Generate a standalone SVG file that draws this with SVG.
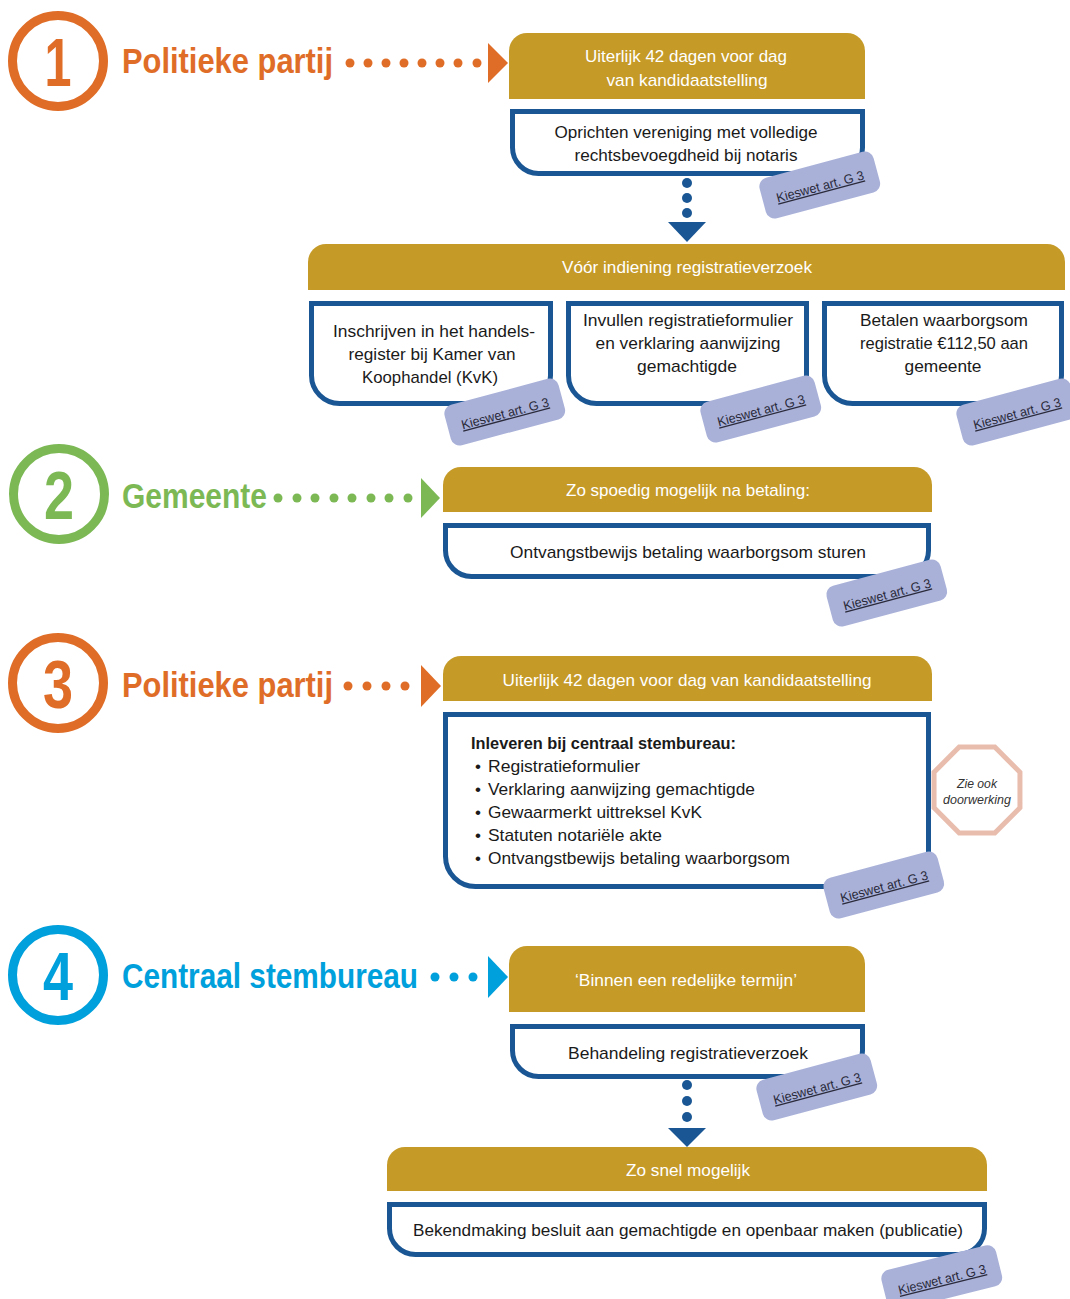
<svg xmlns="http://www.w3.org/2000/svg" width="1070" height="1299" viewBox="0 0 1070 1299">
<style>
.gold{fill:#C59A27}
.box{fill:#fff;stroke:#1A5694;stroke-width:5}
.hd{font-family:"Liberation Sans",Arial,sans-serif;font-size:17px;fill:#fff;text-anchor:middle}
.bt{font-family:"Liberation Sans",Arial,sans-serif;font-size:17px;fill:#1a1a1a;text-anchor:middle}
.bl{font-family:"Liberation Sans",Arial,sans-serif;font-size:17px;fill:#1a1a1a}
.tagr{fill:#A9B1D9}
.tagt{font-family:"Liberation Sans",Arial,sans-serif;font-size:13px;fill:#2a2a3a;text-anchor:middle;text-decoration:underline}
.ring{fill:none;stroke-width:9}
.num{font-family:"Liberation Sans",Arial,sans-serif;font-weight:bold;font-size:69px;text-anchor:middle}
.ttl{font-family:"Liberation Sans",Arial,sans-serif;font-weight:bold;font-size:35px}
.or{fill:#E06D27}.gr{fill:#7CB955}.cy{fill:#00A0DC}.db{fill:#1A5694}
</style>
<defs>
<g id="tag">
<rect class="tagr" x="-59" y="-22" width="118" height="42" rx="9"/>
<text class="tagt" x="0" y="5" textLength="90" lengthAdjust="spacingAndGlyphs">Kieswet art. G 3</text>
</g>
</defs>

<g id="connectors">
<g class="or">
<circle cx="350" cy="63" r="4.5"/><circle cx="368" cy="63" r="4.5"/><circle cx="386" cy="63" r="4.5"/><circle cx="404" cy="63" r="4.5"/><circle cx="422" cy="63" r="4.5"/><circle cx="440" cy="63" r="4.5"/><circle cx="458" cy="63" r="4.5"/><circle cx="477" cy="63" r="4.5"/>
<polygon points="488,43 508,63 488,83"/>
</g>
<g class="db">
<circle cx="687" cy="183" r="5"/><circle cx="687" cy="198" r="5"/><circle cx="687" cy="213" r="5"/>
<polygon points="668,222 706,222 687,242"/>
</g>
<g class="gr">
<circle cx="278" cy="498" r="4.5"/><circle cx="297" cy="498" r="4.5"/><circle cx="315" cy="498" r="4.5"/><circle cx="334" cy="498" r="4.5"/><circle cx="352" cy="498" r="4.5"/><circle cx="371" cy="498" r="4.5"/><circle cx="389" cy="498" r="4.5"/><circle cx="408" cy="498" r="4.5"/>
<polygon points="421,478 440,498 421,518"/>
</g>
<g class="or">
<circle cx="348" cy="686" r="4.5"/><circle cx="367" cy="686" r="4.5"/><circle cx="386" cy="686" r="4.5"/><circle cx="405" cy="686" r="4.5"/>
<polygon points="421,665 441,686 421,707"/>
</g>
<g class="cy">
<circle cx="435" cy="977" r="4.5"/><circle cx="454" cy="977" r="4.5"/><circle cx="473" cy="977" r="4.5"/>
<polygon points="488,956 508,977 488,998"/>
</g>
<g class="db">
<circle cx="687" cy="1085" r="5"/><circle cx="687" cy="1101" r="5"/><circle cx="687" cy="1117" r="5"/>
<polygon points="668,1128 706,1128 687,1147"/>
</g>
</g>

<g id="actor1">
<circle class="ring" cx="58" cy="61" r="45.5" stroke="#E06D27"/>
<text class="num or" x="58" y="86" textLength="27" lengthAdjust="spacingAndGlyphs">1</text>
<text class="ttl or" x="122" y="73" textLength="211" lengthAdjust="spacingAndGlyphs">Politieke partij</text>
</g>
<g id="header1">
<path class="gold" d="M509,99 V51 A18,18 0 0 1 527,33 H847 A18,18 0 0 1 865,51 V99 Z"/>
<text class="hd" x="686" y="62" textLength="202" lengthAdjust="spacingAndGlyphs">Uiterlijk 42 dagen voor dag</text>
<text class="hd" x="687" y="86" textLength="161" lengthAdjust="spacingAndGlyphs">van kandidaatstelling</text>
</g>
<g id="step1">
<path class="box" d="M512.5,111.5 H862.5 V147.5 A26,26 0 0 1 836.5,173.5 H538.5 A26,26 0 0 1 512.5,147.5 Z"/>
<text class="bt" x="686" y="138" textLength="263" lengthAdjust="spacingAndGlyphs">Oprichten vereniging met volledige</text>
<text class="bt" x="686" y="161" textLength="223" lengthAdjust="spacingAndGlyphs">rechtsbevoegdheid bij notaris</text>
<use href="#tag" transform="translate(820,186) rotate(-15)"/>
</g>

<g id="header2">
<path class="gold" d="M308,290 V262 A18,18 0 0 1 326,244 H1047 A18,18 0 0 1 1065,262 V290 Z"/>
<text class="hd" x="687" y="273" textLength="250" lengthAdjust="spacingAndGlyphs">Vóór indiening registratieverzoek</text>
</g>
<g id="stepA">
<path class="box" d="M311.5,303.5 H550.5 V375.5 A28,28 0 0 1 522.5,403.5 H339.5 A28,28 0 0 1 311.5,375.5 Z"/>
<text class="bt" x="434" y="337" textLength="202" lengthAdjust="spacingAndGlyphs">Inschrijven in het handels-</text>
<text class="bt" x="432" y="360" textLength="167" lengthAdjust="spacingAndGlyphs">register bij Kamer van</text>
<text class="bt" x="430" y="383" textLength="136" lengthAdjust="spacingAndGlyphs">Koophandel (KvK)</text>
<use href="#tag" transform="translate(505,413) rotate(-15)"/>
</g>
<g id="stepB">
<path class="box" d="M568.5,303.5 H806.5 V375.5 A28,28 0 0 1 778.5,403.5 H596.5 A28,28 0 0 1 568.5,375.5 Z"/>
<text class="bt" x="688" y="326" textLength="210" lengthAdjust="spacingAndGlyphs">Invullen registratieformulier</text>
<text class="bt" x="688" y="349" textLength="185" lengthAdjust="spacingAndGlyphs">en verklaring aanwijzing</text>
<text class="bt" x="687" y="372" textLength="100" lengthAdjust="spacingAndGlyphs">gemachtigde</text>
<use href="#tag" transform="translate(761,410) rotate(-15)"/>
</g>
<g id="stepC">
<path class="box" d="M824.5,303.5 H1061.5 V375.5 A28,28 0 0 1 1033.5,403.5 H852.5 A28,28 0 0 1 824.5,375.5 Z"/>
<text class="bt" x="944" y="326" textLength="168" lengthAdjust="spacingAndGlyphs">Betalen waarborgsom</text>
<text class="bt" x="944" y="349" textLength="168" lengthAdjust="spacingAndGlyphs">registratie €112,50 aan</text>
<text class="bt" x="943" y="372" textLength="77" lengthAdjust="spacingAndGlyphs">gemeente</text>
<use href="#tag" transform="translate(1017,413) rotate(-15)"/>
</g>

<g id="actor2">
<circle class="ring" cx="59" cy="494" r="45.5" stroke="#7CB955"/>
<text class="num gr" x="59" y="519" textLength="30" lengthAdjust="spacingAndGlyphs">2</text>
<text class="ttl gr" x="122" y="508" textLength="145" lengthAdjust="spacingAndGlyphs">Gemeente</text>
</g>
<g id="header3">
<path class="gold" d="M443,512 V485 A18,18 0 0 1 461,467 H914 A18,18 0 0 1 932,485 V512 Z"/>
<text class="hd" x="688" y="496" textLength="244" lengthAdjust="spacingAndGlyphs">Zo spoedig mogelijk na betaling:</text>
</g>
<g id="step2">
<path class="box" d="M445.5,525.5 H928.5 V550.5 A26,26 0 0 1 902.5,576.5 H471.5 A26,26 0 0 1 445.5,550.5 Z"/>
<text class="bt" x="688" y="558" textLength="356" lengthAdjust="spacingAndGlyphs">Ontvangstbewijs betaling waarborgsom sturen</text>
<use href="#tag" transform="translate(887,594) rotate(-15)"/>
</g>

<g id="actor3">
<circle class="ring" cx="58" cy="683" r="45.5" stroke="#E06D27"/>
<text class="num or" x="58" y="708" textLength="30" lengthAdjust="spacingAndGlyphs">3</text>
<text class="ttl or" x="122" y="697" textLength="211" lengthAdjust="spacingAndGlyphs">Politieke partij</text>
</g>
<g id="header4">
<path class="gold" d="M443,701 V674 A18,18 0 0 1 461,656 H914 A18,18 0 0 1 932,674 V701 Z"/>
<text class="hd" x="687" y="686" textLength="369" lengthAdjust="spacingAndGlyphs">Uiterlijk 42 dagen voor dag van kandidaatstelling</text>
</g>
<g id="step3">
<path class="box" d="M445.5,714.5 H928.5 V856.5 A30,30 0 0 1 898.5,886.5 H475.5 A30,30 0 0 1 445.5,856.5 Z"/>
<text class="bl" x="471" y="749" font-weight="bold" textLength="265" lengthAdjust="spacingAndGlyphs">Inleveren bij centraal stembureau:</text>
<g class="bl">
<text x="475" y="772">•</text><text x="488" y="772" textLength="152" lengthAdjust="spacingAndGlyphs">Registratieformulier</text>
<text x="475" y="795">•</text><text x="488" y="795" textLength="267" lengthAdjust="spacingAndGlyphs">Verklaring aanwijzing gemachtigde</text>
<text x="475" y="818">•</text><text x="488" y="818" textLength="214" lengthAdjust="spacingAndGlyphs">Gewaarmerkt uittreksel KvK</text>
<text x="475" y="841">•</text><text x="488" y="841" textLength="174" lengthAdjust="spacingAndGlyphs">Statuten notariële akte</text>
<text x="475" y="864">•</text><text x="488" y="864" textLength="302" lengthAdjust="spacingAndGlyphs">Ontvangstbewijs betaling waarborgsom</text>
</g>
<use href="#tag" transform="translate(884,886) rotate(-15)"/>
</g>
<g id="note">
<polygon points="1019.96,807.8 994.8,832.96 959.2,832.96 934.04,807.8 934.04,772.2 959.2,747.04 994.8,747.04 1019.96,772.2" fill="#fff" stroke="#E9BDAE" stroke-width="5"/>
<text x="977" y="788" font-family="Liberation Sans, Arial, sans-serif" font-size="12" font-style="italic" fill="#333" text-anchor="middle" textLength="40" lengthAdjust="spacingAndGlyphs">Zie ook</text>
<text x="977" y="804" font-family="Liberation Sans, Arial, sans-serif" font-size="12" font-style="italic" fill="#333" text-anchor="middle" textLength="68" lengthAdjust="spacingAndGlyphs">doorwerking</text>
</g>

<g id="actor4">
<circle class="ring" cx="58" cy="975" r="45.5" stroke="#00A0DC"/>
<text class="num cy" x="58" y="1000" textLength="30" lengthAdjust="spacingAndGlyphs">4</text>
<text class="ttl cy" x="122" y="988" textLength="296" lengthAdjust="spacingAndGlyphs">Centraal stembureau</text>
</g>
<g id="header5">
<path class="gold" d="M509,1012 V964 A18,18 0 0 1 527,946 H847 A18,18 0 0 1 865,964 V1012 Z"/>
<text class="hd" x="686" y="986" textLength="222" lengthAdjust="spacingAndGlyphs">‘Binnen een redelijke termijn’</text>
</g>
<g id="step4">
<path class="box" d="M512.5,1026.5 H862.5 V1050.5 A26,26 0 0 1 836.5,1076.5 H538.5 A26,26 0 0 1 512.5,1050.5 Z"/>
<text class="bt" x="688" y="1059" textLength="240" lengthAdjust="spacingAndGlyphs">Behandeling registratieverzoek</text>
<use href="#tag" transform="translate(817,1088) rotate(-15)"/>
</g>
<g id="header6">
<path class="gold" d="M387,1191 V1165 A18,18 0 0 1 405,1147 H969 A18,18 0 0 1 987,1165 V1191 Z"/>
<text class="hd" x="688" y="1176" textLength="124" lengthAdjust="spacingAndGlyphs">Zo snel mogelijk</text>
</g>
<g id="step5">
<path class="box" d="M389.5,1204.5 H984.5 V1228.5 A26,26 0 0 1 958.5,1254.5 H415.5 A26,26 0 0 1 389.5,1228.5 Z"/>
<text class="bt" x="688" y="1236" textLength="550" lengthAdjust="spacingAndGlyphs">Bekendmaking besluit aan gemachtigde en openbaar maken (publicatie)</text>
<use href="#tag" transform="translate(942,1279) rotate(-14)"/>
</g>
</svg>
